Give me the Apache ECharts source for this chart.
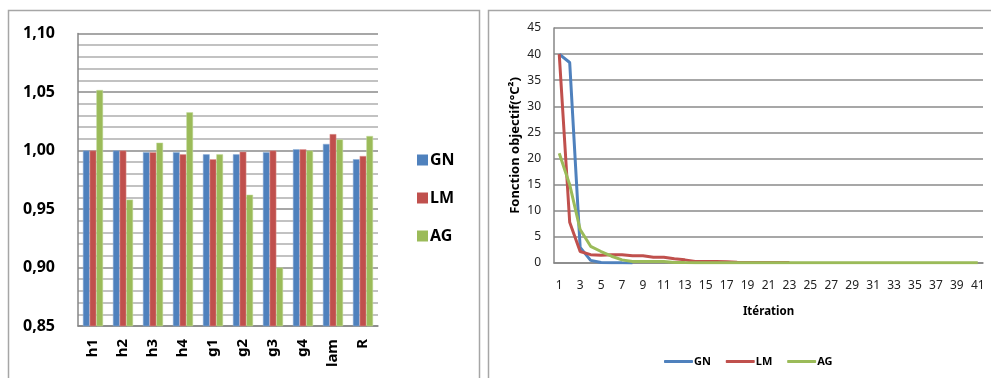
<!DOCTYPE html>
<html>
<head>
<meta charset="utf-8">
<script src="https://cdn.jsdelivr.net/npm/echarts@6/dist/echarts.min.js"></script>
<style>
html,body{margin:0;padding:0;background:#fff;}
#c{width:991px;height:378px;}
</style>
</head>
<body>
<div id="c"></div>
<script>
// Left chart: parameter ratios
const barCategories = ['h1','h2','h3','h4','g1','g2','g3','g4','lam','R'];
const barGN = [1.000, 1.000, 0.9986, 0.9986, 0.9967, 0.9967, 0.9986, 1.001, 1.0056, 0.9925];
const barLM = [1.000, 1.000, 0.9986, 0.9967, 0.9925, 0.999, 1.000, 1.001, 1.014, 0.9953];
const barAG = [1.0517, 0.958, 1.0067, 1.0326, 0.9967, 0.9622, 0.900, 1.000, 1.0095, 1.0124];

// Right chart: objective function vs iteration
const iterations = [];
for (let i = 1; i <= 41; i++) iterations.push(String(i));
const lineGN = [40.0, 38.4, 3.0, 0.5, 0.1, 0.05, 0.03, 0.02];
const lineLM = [40.0, 7.8, 2.2, 1.6, 1.5, 1.6, 1.6, 1.4, 1.4, 1.1, 1.1, 0.8, 0.6, 0.3, 0.3, 0.3, 0.25, 0.15, 0.1, 0.1, 0.1, 0.08, 0.08];
const lineAG = [21.0, 15.0, 6.4, 3.2, 2.2, 1.3, 0.6, 0.3, 0.3, 0.3, 0.3, 0.1, 0.08, 0.07, 0.07, 0.06, 0.06, 0.06, 0.05, 0.05, 0.05, 0.05, 0.05, 0.05, 0.05, 0.05, 0.05, 0.05, 0.05, 0.05, 0.05, 0.05, 0.05, 0.05, 0.05, 0.05, 0.05, 0.05, 0.05, 0.05, 0.05];

const colGN = '#4F81BD', colLM = '#C0504D', colAG = '#9BBB59';
const FONT = '"Noto Sans"';

const chart = echarts.init(document.getElementById('c'), null, {renderer: 'canvas'});
chart.setOption({
  animation: false,
  backgroundColor: '#fff',
  textStyle: {fontFamily: FONT},
  graphic: [
    {type: 'rect', shape: {x: 8.5, y: 10.5, width: 471, height: 400}, style: {fill: 'none', stroke: '#a6a6a6', lineWidth: 1.5}, silent: true, z: -1},
    {type: 'rect', shape: {x: 488.5, y: 10.5, width: 520, height: 400}, style: {fill: 'none', stroke: '#a6a6a6', lineWidth: 1.5}, silent: true, z: -1}
  ],
  legend: [
    {
      orient: 'vertical',
      left: 412, top: 147,
      itemWidth: 11, itemHeight: 11,
      itemGap: 22,
      icon: 'rect',
      itemStyle: {borderWidth: 0},
      textStyle: {fontFamily: FONT, fontWeight: 'bold', fontSize: 16, color: '#000', padding: [0,0,0,-3]},
      data: ['GN', 'LM', 'AG'].map(n => ({name: n, icon: 'rect'})),
      selectedMode: false
    },
    {
      orient: 'horizontal',
      left: 659, top: 351,
      itemWidth: 29, itemHeight: 3,
      itemGap: 12,
      textStyle: {fontFamily: FONT, fontWeight: 'bold', fontSize: 11, color: '#000', padding: [0,0,0,-4]},
      data: [
        {name: 'GN ', icon: 'roundRect'},
        {name: 'LM ', icon: 'roundRect'},
        {name: 'AG ', icon: 'roundRect'}
      ],
      selectedMode: false
    }
  ],
  grid: [
    {left: 78, right: 613, top: 33.5, bottom: 52},
    {left: 554, right: 8, top: 28, bottom: 115}
  ],
  xAxis: [
    {
      type: 'category', gridIndex: 0, data: barCategories,
      axisLine: {lineStyle: {color: '#868686', width: 1.5}},
      axisTick: {show: false},
      axisLabel: {rotate: 90, fontFamily: FONT, fontWeight: 'bold', fontSize: 15, color: '#000', margin: 13}
    },
    {
      type: 'category', gridIndex: 1, data: iterations, boundaryGap: true,
      axisLine: {lineStyle: {color: '#868686', width: 1.5}},
      axisTick: {show: false},
      axisLabel: {interval: 1, fontFamily: FONT, fontSize: 12, color: '#222', margin: 17},
      name: 'Itération', nameLocation: 'middle', nameGap: 43,
      nameTextStyle: {fontFamily: FONT, fontWeight: 'bold', fontSize: 11.5, color: '#000'}
    }
  ],
  yAxis: [
    {
      type: 'value', gridIndex: 0, min: 0.85, max: 1.10, interval: 0.05,
      axisLine: {show: true, lineStyle: {color: '#868686', width: 1.5}},
      axisTick: {show: false},
      axisLabel: {fontFamily: FONT, fontWeight: 'bold', fontSize: 16, color: '#000', margin: 23,
        formatter: v => v.toFixed(2).replace('.', ',')},
      splitLine: {lineStyle: {color: '#8a8a8a', width: 1.5}},
      minorTick: {show: false, splitNumber: 5},
      minorSplitLine: {show: true, lineStyle: {color: '#c2c2c2', width: 2}}
    },
    {
      type: 'value', gridIndex: 1, min: 0, max: 45, interval: 5,
      axisLine: {show: true, lineStyle: {color: '#868686', width: 1.5}},
      axisTick: {show: false},
      axisLabel: {fontFamily: FONT, fontSize: 12, color: '#222', margin: 13},
      splitLine: {lineStyle: {color: '#8a8a8a', width: 1.5}},
      name: 'Fonction objectif(°C²)', nameLocation: 'middle', nameGap: 32,
      nameTextStyle: {fontFamily: FONT, fontWeight: 'bold', fontSize: 13, color: '#000'}
    }
  ],
  series: [
    {name: 'GN', type: 'bar', xAxisIndex: 0, yAxisIndex: 0, data: barGN, barGap: '0%', barCategoryGap: '33%',
      itemStyle: {color: colGN, borderColor: '#8fb0d8', borderWidth: 0.5}},
    {name: 'LM', type: 'bar', xAxisIndex: 0, yAxisIndex: 0, data: barLM, barGap: '0%', barCategoryGap: '33%',
      itemStyle: {color: colLM, borderColor: '#e09a98', borderWidth: 0.5}},
    {name: 'AG', type: 'bar', xAxisIndex: 0, yAxisIndex: 0, data: barAG, barGap: '0%', barCategoryGap: '33%',
      itemStyle: {color: colAG, borderColor: '#c6dca0', borderWidth: 0.5}},
    {name: 'GN ', type: 'line', xAxisIndex: 1, yAxisIndex: 1, data: lineGN, symbol: 'none',
      lineStyle: {color: colGN, width: 3}, itemStyle: {color: colGN}},
    {name: 'LM ', type: 'line', xAxisIndex: 1, yAxisIndex: 1, data: lineLM, symbol: 'none',
      lineStyle: {color: colLM, width: 3}, itemStyle: {color: colLM}},
    {name: 'AG ', type: 'line', xAxisIndex: 1, yAxisIndex: 1, data: lineAG, symbol: 'none',
      lineStyle: {color: colAG, width: 3}, itemStyle: {color: colAG}}
  ]
});
</script>
</body>
</html>
